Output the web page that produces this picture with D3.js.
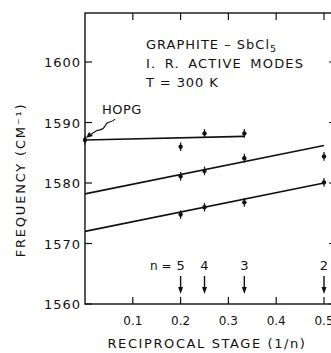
<!DOCTYPE html>
<html>
<head>
<meta charset="utf-8">
<script src="https://cdn.jsdelivr.net/npm/d3@7"></script>
<style>
  body { margin: 0; background: #fff; }
  text { font-family: "DejaVu Sans", sans-serif; fill: #111; }
</style>
</head>
<body>
<svg id="chart" width="331" height="353"></svg>
<script>
// values
const xTicks = [0.1, 0.2, 0.3, 0.4, 0.5];
const yTicks = [1560, 1570, 1580, 1590, 1600];

const stages = [5, 4, 3, 2];
const stageX = [0.2, 0.25, 1 / 3, 0.5];

// measured points, with error half-width
const hopgX = [0, 0.25, 1 / 3];
const hopgY = [1587.1, 1588.2, 1588.2];
const extraX = [0.2, 0.5];
const extraY = [1586.0, 1584.4];
const midX = [0.2, 0.25, 1 / 3];
const midY = [1581.1, 1582.0, 1584.1];
const lowX = [0.2, 0.25, 1 / 3, 0.5];
const lowY = [1574.8, 1576.0, 1576.8, 1580.1];
const errHalf = 0.55;

// fitted lines (end points)
const hopgLine = [[0, 1587.1], [1 / 3, 1587.7]];
const midLine = [[0, 1578.2], [0.5, 1586.2]];
const lowLine = [[0, 1572.0], [0.5, 1580.0]];

const svg = d3.select("#chart");
const mLeft = 85, mRight = 336, mTop = 13, mBottom = 304;

const x = d3.scaleLinear().domain([0, 0.5]).range([mLeft, 324]);
const y = d3.scaleLinear().domain([1560, 1608.1]).range([mBottom, mTop]);

// frame
svg.append("rect")
  .attr("x", mLeft).attr("y", mTop)
  .attr("width", mRight - mLeft).attr("height", mBottom - mTop)
  .attr("fill", "none").attr("stroke", "#111").attr("stroke-width", 1.4);

// inward ticks
const tickLen = 7;
xTicks.forEach(function (t) {
  svg.append("line").attr("x1", x(t)).attr("x2", x(t))
    .attr("y1", mBottom).attr("y2", mBottom - tickLen)
    .attr("stroke", "#111").attr("stroke-width", 1.2);
  svg.append("line").attr("x1", x(t)).attr("x2", x(t))
    .attr("y1", mTop).attr("y2", mTop + tickLen)
    .attr("stroke", "#111").attr("stroke-width", 1.2);
  svg.append("text").attr("x", x(t)).attr("y", mBottom + 21)
    .attr("text-anchor", "middle").attr("font-size", 12)
    .text(t.toFixed(1));
});
yTicks.forEach(function (t) {
  svg.append("line").attr("x1", mLeft).attr("x2", mLeft + tickLen)
    .attr("y1", y(t)).attr("y2", y(t))
    .attr("stroke", "#111").attr("stroke-width", 1.2);
  svg.append("line").attr("x1", mRight).attr("x2", mRight - tickLen)
    .attr("y1", y(t)).attr("y2", y(t))
    .attr("stroke", "#111").attr("stroke-width", 1.2);
  svg.append("text").attr("x", mLeft - 4).attr("y", y(t) + 5)
    .attr("text-anchor", "end").attr("font-size", 13)
    .attr("letter-spacing", 1)
    .text(t);
});

// fitted lines
const line = d3.line().x(d => x(d[0])).y(d => y(d[1]));
[hopgLine, midLine, lowLine].forEach(function (seg) {
  svg.append("path").attr("d", line(seg))
    .attr("fill", "none").attr("stroke", "#111").attr("stroke-width", 1.6);
});

// points with error bars
function drawPoints(xs, ys) {
  xs.forEach(function (xv, i) {
    const px = x(xv), py = y(ys[i]);
    svg.append("line").attr("x1", px).attr("x2", px)
      .attr("y1", y(ys[i] + errHalf) - 1).attr("y2", y(ys[i] - errHalf) + 1)
      .attr("stroke", "#111").attr("stroke-width", 1.2);
    svg.append("circle").attr("cx", px).attr("cy", py).attr("r", 2.2)
      .attr("fill", "#111");
  });
}
drawPoints(hopgX, hopgY);
drawPoints(extraX, extraY);
drawPoints(midX, midY);
drawPoints(lowX, lowY);

// stage arrows
stageX.forEach(function (s, i) {
  const px = x(s);
  svg.append("line").attr("x1", px).attr("x2", px)
    .attr("y1", 276).attr("y2", 290)
    .attr("stroke", "#111").attr("stroke-width", 1.4);
  svg.append("path")
    .attr("d", "M" + (px - 2.5) + ",287 L" + (px + 2.5) + ",287 L" + px + ",294 Z")
    .attr("fill", "#111");
  svg.append("text").attr("x", px).attr("y", 270)
    .attr("text-anchor", "middle").attr("font-size", 13)
    .text(stages[i]);
});
svg.append("text").attr("x", x(0.2) - 9).attr("y", 270)
  .attr("text-anchor", "end").attr("font-size", 12)
  .text("n =");

// title block
const title = svg.append("text").attr("x", 146).attr("y", 49)
  .attr("font-size", 13).attr("letter-spacing", 1);
title.append("tspan").text("GRAPHITE – SbCl");
title.append("tspan").attr("font-size", 9.5).attr("dy", 3).text("5");
svg.append("text").attr("x", 146).attr("y", 68).attr("font-size", 13)
  .attr("letter-spacing", 1.2).attr("word-spacing", 3)
  .text("I. R.  ACTIVE  MODES");
svg.append("text").attr("x", 146).attr("y", 87).attr("font-size", 13)
  .attr("letter-spacing", 0.9)
  .text("T = 300 K");

// HOPG label with squiggly pointer
svg.append("text").attr("x", 102).attr("y", 114).attr("font-size", 13)
  .attr("letter-spacing", 0.5).text("HOPG");
svg.append("path")
  .attr("d", "M115,119 C111,124 107,120 105,126 C103,131 100,129 96,131 L90,135")
  .attr("fill", "none").attr("stroke", "#111").attr("stroke-width", 1.1);
svg.append("path").attr("d", "M86,138 L89,132 L93,136 Z").attr("fill", "#111");

// axis titles
svg.append("text").attr("x", 207).attr("y", 348)
  .attr("text-anchor", "middle").attr("font-size", 13)
  .attr("letter-spacing", 1.6)
  .text("RECIPROCAL STAGE (1/n)");
svg.append("text")
  .attr("transform", "translate(25,180) rotate(-90)")
  .attr("text-anchor", "middle").attr("font-size", 13)
  .attr("letter-spacing", 1.8)
  .text("FREQUENCY (CM⁻¹)");
</script>
</body>
</html>
